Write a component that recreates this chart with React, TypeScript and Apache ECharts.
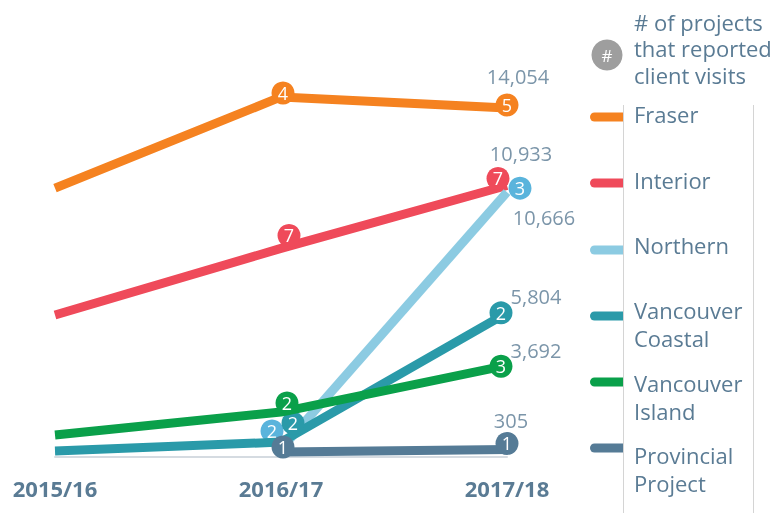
import { useEffect, useRef } from "react";
import * as echarts from "echarts";

// ---- data ----
const years = ["2015/16", "2016/17", "2017/18"];
const regions = ["Fraser", "Interior", "Northern", "Vancouver Coastal", "Vancouver Island", "Provincial Project"];
const legendLabels = ["Fraser", "Interior", "Northern", "Vancouver\nCoastal", "Vancouver\nIsland", "Provincial\nProject"];
const headerLines = ["# of projects", "that reported", "client visits"];

const fraserVisits = [10830, 14500, 14054];
const interiorVisits = [5720, 8400, 10933];
const northernVisits = ["-", 320, 10666];
const coastalVisits = [240, 600, 5804];
const islandVisits = [890, 1810, 3692];
const provincialVisits = ["-", 200, 305];

const fraserProjects = [null, 4, 5];
const interiorProjects = [null, 7, 7];
const northernProjects = [null, 2, 3];
const coastalProjects = [null, 2, 2];
const islandProjects = [null, 2, 3];
const provincialProjects = [null, 1, 1];

const visits: any[][] = [fraserVisits, interiorVisits, northernVisits, coastalVisits, islandVisits, provincialVisits];
const projects: (number | null)[][] = [fraserProjects, interiorProjects, northernProjects, coastalProjects, islandProjects, provincialProjects];

// ---- styles ----
const FONT = "'Open Sans', sans-serif";
const TEXT = "#5a7b94";
const lineColors = ["#f58220", "#ef4a5a", "#8ccbe2", "#2a9aa9", "#0aa04a", "#557b96"];
const markerColors = ["#f58220", "#ef4a5a", "#5ab4dc", "#2a9aa9", "#0aa04a", "#557b96"];
// marker nudges (px) per region for each year
const markerNudges: number[][][] = [
  [[0, 0], [2, -4], [0, -3]],
  [[0, 0], [8, -13], [-9, -7]],
  [[0, 0], [-9, -18], [13, -4]],
  [[0, 0], [12, -19], [-6, 0]],
  [[0, 0], [6, -9], [-6, 1]],
  [[0, 0], [2, -5], [0, -6]],
];
const valueNudges: number[][] = [
  [11, -31],
  [14, -32],
  [37, 25],
  [29, -16],
  [29, -15],
  [4, -29],
];
const headerLineY = [22, 48, 75];
const legendIconY = [117, 183, 250, 316, 382, 448];
const legendTextTop = [100, 166, 231, 296, 369, 441];

export default function App() {
  const ref = useRef<HTMLDivElement>(null);
  useEffect(() => {
    if (!ref.current) return;
    const chart = echarts.init(ref.current, undefined, { renderer: "svg" });

    const lineSeries = regions.map((name, i) => ({
      type: "line",
      name,
      z: 2 + i,
      data: visits[i].map((v, j) => {
        if (v === "-") return "-";
        const c = projects[i][j];
        if (c == null) return { value: v, symbol: "none" };
        return {
          value: v,
          symbol: "circle",
          symbolOffset: markerNudges[i][j],
          label: { show: true, formatter: String(c) },
        };
      }),
      symbolSize: 23,
      showSymbol: true,
      itemStyle: { color: markerColors[i] },
      lineStyle: { color: lineColors[i], width: 9, join: "round", cap: "butt" },
      label: { show: false, position: "inside", color: "#fff", fontSize: 18, fontFamily: FONT },
      emphasis: { disabled: true },
      silent: true,
    }));

    const valueSeries = {
      type: "scatter",
      z: 20,
      symbolSize: 1,
      itemStyle: { color: "rgba(0,0,0,0)" },
      silent: true,
      data: regions.map((_, i) => ({
        value: [2, visits[i][2]],
        label: {
          show: true,
          position: "inside",
          offset: valueNudges[i],
          formatter: Number(visits[i][2]).toLocaleString("en-US"),
          color: TEXT,
          fontSize: 20,
          fontFamily: FONT,
        },
      })),
    };

    const graphics: any[] = [
      { type: "circle", shape: { cx: 607, cy: 55, r: 15.5 }, style: { fill: "#9e9e9e" } },
      {
        type: "text",
        x: 607,
        y: 55,
        style: { text: "#", fill: "#fff", font: `17px ${FONT}`, align: "center", verticalAlign: "middle" },
      },
      { type: "line", shape: { x1: 623.5, y1: 105, x2: 623.5, y2: 513 }, style: { stroke: "#d4d4d4", lineWidth: 1 } },
      { type: "line", shape: { x1: 753.5, y1: 105, x2: 753.5, y2: 513 }, style: { stroke: "#d4d4d4", lineWidth: 1 } },
    ];
    headerLines.forEach((t, k) => {
      graphics.push({
        type: "text",
        x: 634,
        y: headerLineY[k],
        style: { text: t, fill: TEXT, font: `22px ${FONT}`, verticalAlign: "middle" },
      });
    });
    regions.forEach((_, i) => {
      graphics.push({
        type: "rect",
        shape: { x: 590, y: legendIconY[i] - 4.5, width: 33, height: 9, r: [4.5, 0, 0, 4.5] },
        style: { fill: lineColors[i] },
      });
      graphics.push({
        type: "text",
        x: 634,
        y: legendTextTop[i],
        style: { text: legendLabels[i], fill: TEXT, font: `22px ${FONT}`, lineHeight: 28, verticalAlign: "top" },
      });
    });

    chart.setOption({
      animation: false,
      grid: { left: 55, width: 452, top: 10, bottom: 56 },
      xAxis: {
        type: "category",
        data: years,
        boundaryGap: false,
        axisLine: { lineStyle: { color: "#d5dbe1", width: 2 } },
        axisTick: { show: false },
        splitLine: { show: false },
        axisLabel: { color: TEXT, fontSize: 22, fontWeight: "bold", fontFamily: FONT, margin: 20 },
      },
      yAxis: { type: "value", min: 0, max: 18000, show: false, splitLine: { show: false } },
      series: [...lineSeries, valueSeries],
      graphic: graphics,
    });
    return () => chart.dispose();
  }, []);
  return <div ref={ref} style={{ position: "fixed", left: 0, top: 0, width: 777, height: 513 }} />;
}
